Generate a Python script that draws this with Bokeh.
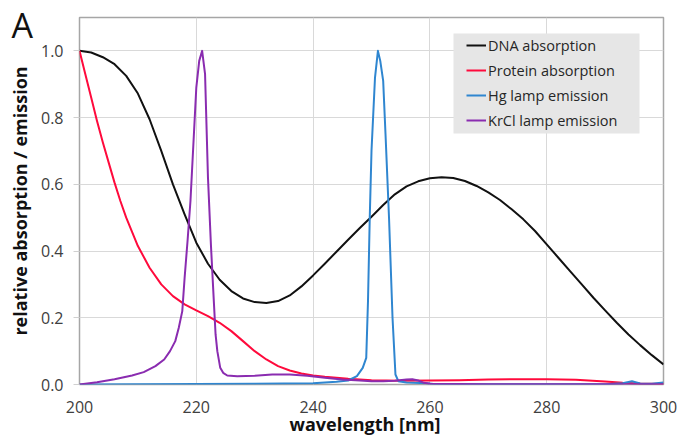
from bokeh.plotting import figure
from bokeh.models import Legend, LegendItem, BoxAnnotation, Title, Range1d, FixedTicker
from bokeh.embed import file_html
from bokeh.resources import INLINE

# ---- data ----
wl_dna = [200, 202, 204, 206, 208, 210, 212, 214, 216, 218, 220, 222, 224, 226, 228, 230,
          232, 234, 236, 238, 240, 242, 244, 246, 248, 250, 252, 254, 256, 258, 260, 262,
          264, 266, 268, 270, 272, 274, 276, 278, 280, 282, 284, 286, 288, 290, 292, 294,
          296, 298, 300]
dna = [1.000, 0.995, 0.981, 0.960, 0.925, 0.872, 0.795, 0.700, 0.600, 0.510, 0.425, 0.362,
       0.314, 0.280, 0.258, 0.247, 0.244, 0.250, 0.267, 0.294, 0.327, 0.362, 0.398, 0.434,
       0.469, 0.503, 0.538, 0.570, 0.594, 0.609, 0.618, 0.621, 0.619, 0.610, 0.595, 0.576,
       0.553, 0.525, 0.495, 0.460, 0.420, 0.380, 0.340, 0.300, 0.260, 0.222, 0.185, 0.150,
       0.118, 0.088, 0.060]

wl_protein = [200, 201, 202, 203, 204, 205, 206, 207, 208, 210, 212, 214, 216, 218, 220, 222,
              224, 226, 228, 230, 232, 234, 236, 238, 240, 242, 244, 246, 248, 250, 255, 260,
              265, 270, 275, 280, 285, 290, 293, 296, 300]
protein = [1.000, 0.930, 0.860, 0.790, 0.725, 0.665, 0.605, 0.550, 0.500, 0.415, 0.350, 0.300,
           0.265, 0.240, 0.222, 0.205, 0.185, 0.160, 0.130, 0.100, 0.075, 0.055, 0.042, 0.033,
           0.027, 0.023, 0.020, 0.017, 0.015, 0.013, 0.011, 0.012, 0.013, 0.015, 0.016, 0.016,
           0.014, 0.009, 0.005, 0.003, 0.002]

wl_hg = [200, 230, 240, 244, 246, 247.5, 248.5, 249.1, 249.4, 249.7, 250.0, 250.6, 251.1,
         251.5, 252.0, 252.4, 253.0, 253.6, 254.1, 254.6, 256, 259.5, 261, 290, 293, 294.6,
         296, 298, 300]
hg = [0.000, 0.002, 0.004, 0.008, 0.012, 0.025, 0.050, 0.080, 0.250, 0.500, 0.700, 0.920,
      1.000, 0.970, 0.910, 0.750, 0.500, 0.200, 0.030, 0.010, 0.006, 0.004, 0.001, 0.001,
      0.004, 0.010, 0.003, 0.002, 0.006]

wl_krcl = [200, 203, 206, 209, 211, 213, 214.5, 215.5, 216.4, 217.0, 217.6, 218.0, 218.5,
           219.0, 219.5, 220.0, 220.5, 221.0, 221.5, 222.0, 222.5, 223.0, 223.3, 223.6,
           224.1, 224.6, 225.3, 227, 230, 233, 236, 239, 242, 245, 248, 250, 252, 254, 256,
           257, 258, 259, 260, 270, 300]
krcl = [0.000, 0.007, 0.016, 0.027, 0.037, 0.055, 0.075, 0.100, 0.130, 0.170, 0.220, 0.320,
        0.430, 0.550, 0.720, 0.890, 0.970, 1.000, 0.930, 0.620, 0.420, 0.250, 0.150, 0.100,
        0.050, 0.035, 0.027, 0.025, 0.026, 0.030, 0.030, 0.026, 0.020, 0.015, 0.012, 0.010,
        0.010, 0.011, 0.015, 0.016, 0.012, 0.005, 0.002, 0.001, 0.001]

x_ticks = [200, 220, 240, 260, 280, 300]
y_ticks = [0.0, 0.2, 0.4, 0.6, 0.8, 1.0]

series_names = ["DNA absorption", "Protein absorption", "Hg lamp emission", "KrCl lamp emission"]
series_colors = ["#111111", "#ff0a3c", "#2f86d0", "#8a2cb0"]

FONT = "Open Sans"

p = figure(width=679, height=440, output_backend="svg", toolbar_location=None,
           x_range=Range1d(200, 300), y_range=Range1d(0, 1.1), title="A",
           min_border_left=79, min_border_right=16, min_border_top=17, min_border_bottom=56)

# panel letter "A" (title with negative standoff so it does not push the frame)
p.title.text_font = FONT
p.title.text_font_size = "34px"
p.title.text_font_style = "normal"
p.title.text_color = "#111111"
p.title.align = "left"
p.title.offset = -68
p.title.vertical_align = "bottom"
p.title.standoff = -60

p.background_fill_color = "white"
p.border_fill_color = "white"
p.outline_line_color = "#a6a6a6"
p.outline_line_width = 1.5

p.xgrid.ticker = FixedTicker(ticks=x_ticks)
p.ygrid.ticker = FixedTicker(ticks=y_ticks)
p.grid.grid_line_color = "#d9d9d9"
p.grid.grid_line_width = 1

p.xaxis.ticker = FixedTicker(ticks=x_ticks)
p.yaxis.ticker = FixedTicker(ticks=y_ticks)
p.yaxis.major_label_overrides = {t: f"{t:.1f}" for t in y_ticks}
for ax in (p.xaxis[0], p.yaxis[0]):
    ax.axis_line_color = None
    ax.minor_tick_line_color = None
    ax.major_tick_in = 0
    ax.major_label_text_font = FONT
    ax.major_label_text_font_size = "16px"
    ax.major_label_text_color = "#404040"
    ax.axis_label_text_font = FONT
    ax.axis_label_text_font_size = "18px"
    ax.axis_label_text_font_style = "bold"
    ax.axis_label_text_color = "#111111"

p.xaxis.major_tick_out = 0
p.xaxis.major_tick_line_color = None
p.xaxis.major_label_standoff = 16

xlab = Title(text="wavelength [nm]", text_font=FONT, text_font_size="18px",
             text_font_style="bold", text_color="#111111", align="left", offset=210,
             vertical_align="top", standoff=-7)
p.add_layout(xlab, "below")

p.yaxis.major_tick_out = 6
p.yaxis.major_tick_line_color = "#d0d0d0"
p.yaxis.major_label_standoff = 10
p.yaxis.axis_label = "relative absorption / emission"
p.yaxis.axis_label_standoff = 6

xs = [wl_dna, wl_protein, wl_hg, wl_krcl]
ys = [dna, protein, hg, krcl]
renderers = []
for x, y, c in zip(xs, ys, series_colors):
    r = p.line(x, y, line_color=c, line_width=2, line_join="round")
    renderers.append(r)

# legend background box (screen units relative to frame)
box = BoxAnnotation(left=374, right=560, bottom=251, top=351,
                    left_units="screen", right_units="screen",
                    bottom_units="screen", top_units="screen",
                    fill_color="#e6e6e6", fill_alpha=1.0, line_color=None)
p.add_layout(box)

legend = Legend(items=[LegendItem(label=n, renderers=[r]) for n, r in zip(series_names, renderers)],
                location=(387, 254), margin=0, padding=0, spacing=5,
                glyph_width=20, glyph_height=20, label_height=20, label_standoff=2,
                background_fill_alpha=0, border_line_color=None,
                label_text_font=FONT, label_text_font_size="14.5px", label_text_color="#262626")
p.add_layout(legend)

open("out.html", "w").write(file_html(p, INLINE))
